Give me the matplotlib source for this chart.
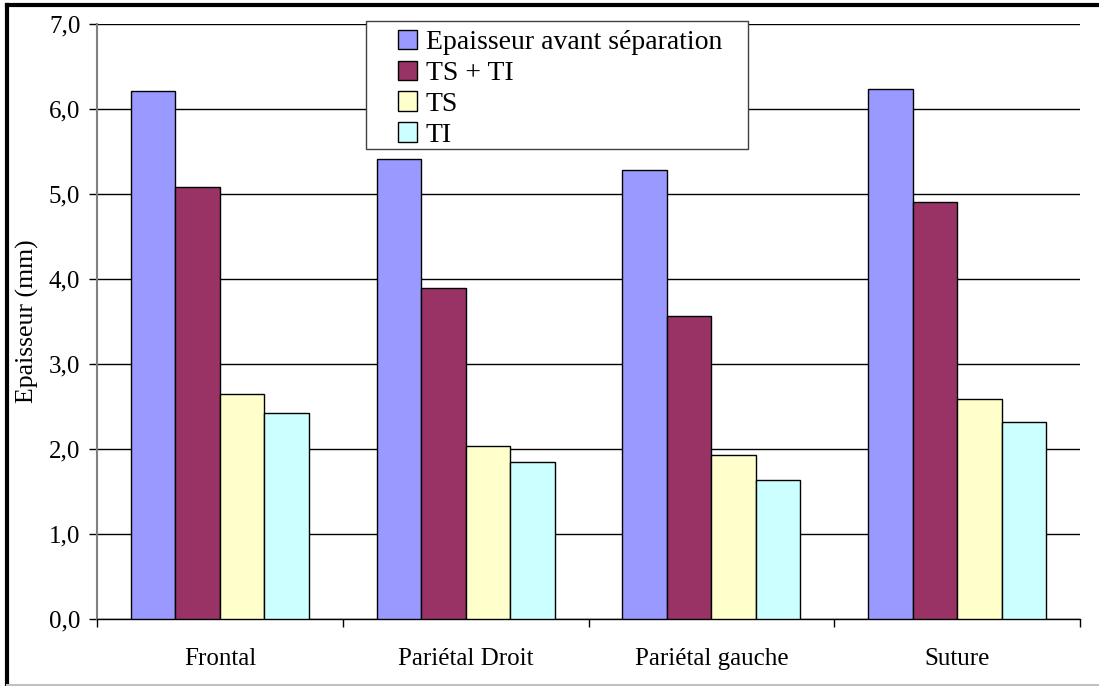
import numpy as np
import matplotlib.pyplot as plt
from matplotlib.lines import Line2D
from matplotlib.patches import Rectangle
from matplotlib.ticker import FixedLocator, FuncFormatter

plt.rcParams['font.family'] = ['Liberation Serif', 'DejaVu Serif']

categories = ["Frontal", "Pariétal Droit", "Pariétal gauche", "Suture"]
series_names = ["Epaisseur avant séparation", "TS + TI", "TS", "TI"]
avant = [6.21, 5.41, 5.28, 6.23]
ts_ti = [5.08, 3.89, 3.57, 4.91]
ts = [2.65, 2.04, 1.93, 2.59]
ti = [2.42, 1.85, 1.63, 2.32]
colors = ["#9999FF", "#993366", "#FFFFCC", "#CCFFFF"]

fig = plt.figure(figsize=(10.99, 6.86), dpi=100)
ax = fig.add_axes([97 / 1099, 67 / 686, (1080 - 97) / 1099, (619 - 24) / 686])

x = np.arange(len(categories))
w = 0.181
for i, (vals, name) in enumerate(zip([avant, ts_ti, ts, ti], series_names)):
    ax.bar(x + (i - 1.5) * w, vals, w, color=colors[i], edgecolor="black",
           linewidth=1, label=name, zorder=3)

ax.set_xlim(-0.5, 3.5)
ax.set_ylim(0, 7)
ax.set_yticks(np.arange(0, 7.1, 1))
ax.yaxis.set_major_formatter(FuncFormatter(lambda v, p: f"{v:.1f}".replace(".", ",")))
ax.yaxis.grid(True, color="black", linewidth=1)
ax.set_axisbelow(True)

ax.set_xticks(x)
ax.set_xticklabels(categories)
ax.xaxis.set_minor_locator(FixedLocator([-0.5, 0.5, 1.5, 2.5, 3.5]))
ax.tick_params(axis="x", which="major", length=0, pad=21, labelsize=18)
ax.tick_params(axis="x", which="minor", length=6, width=1, direction="out")
ax.tick_params(axis="y", length=6, width=1, direction="out", labelsize=18, pad=6)

for s in ["top", "right"]:
    ax.spines[s].set_visible(False)
ax.spines["left"].set_color("#808080")
ax.spines["left"].set_linewidth(1.5)
ax.spines["bottom"].set_color("black")
ax.spines["bottom"].set_linewidth(1)

ax.set_ylabel("Epaisseur (mm)", fontsize=18.5, labelpad=7)

# legend box drawn separately (wider horizontal padding than matplotlib allows)
ax.add_patch(Rectangle((366 / 1099, 1 - 149 / 686), (748 - 366) / 1099, (149 - 21) / 686,
                       transform=fig.transFigure, facecolor="white", clip_on=False,
                       edgecolor="#404040", linewidth=1, zorder=4))
leg = ax.legend(loc="upper left", bbox_to_anchor=(398 / 1099, 1 - 30 / 686),
                bbox_transform=fig.transFigure, borderaxespad=0, borderpad=0,
                fontsize=20, frameon=False,
                handlelength=0.7, handleheight=0.7, handletextpad=0.3,
                labelspacing=0.19)
leg.set_zorder(5)

# outer chart frame
fig.add_artist(Line2D([7 / 1099, 1], [1 - 5 / 686, 1 - 5 / 686], color="black", linewidth=3, transform=fig.transFigure))
fig.add_artist(Line2D([7 / 1099, 7 / 1099], [1 / 686, 1 - 5 / 686], color="black", linewidth=3, transform=fig.transFigure))
fig.add_artist(Line2D([7 / 1099, 1], [1 / 686, 1 / 686], color="#c0c0c0", linewidth=1.5, transform=fig.transFigure))

plt.savefig("out.png", dpi=100)
